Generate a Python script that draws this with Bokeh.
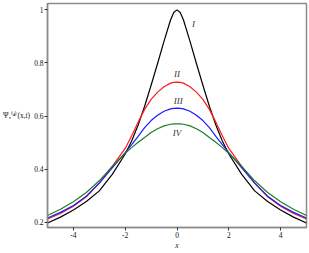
from bokeh.plotting import figure
from bokeh.models import Range1d, FixedTicker, Label
from bokeh.embed import file_html
from bokeh.resources import INLINE

# x >= 0 half of the (symmetric) curves
x_half = [0.0, 0.125, 0.25, 0.5, 0.75, 1.0, 1.25, 1.5, 1.75, 2.0, 2.5, 3.0, 3.5, 4.0, 4.5, 5.0]
psi_I = [1.0, 0.99, 0.962, 0.882, 0.798, 0.716, 0.637, 0.566, 0.506, 0.457, 0.38, 0.318, 0.278, 0.246, 0.219, 0.197]
psi_II = [0.728, 0.727, 0.724, 0.71, 0.69, 0.663, 0.625, 0.577, 0.526, 0.478, 0.41, 0.347, 0.296, 0.26, 0.233, 0.212]
psi_III = [0.630, 0.629, 0.627, 0.618, 0.603, 0.583, 0.556, 0.523, 0.492, 0.462, 0.405, 0.347, 0.298, 0.263, 0.237, 0.216]
psi_IV = [0.571, 0.5705, 0.569, 0.563, 0.552, 0.538, 0.519, 0.501, 0.481, 0.46, 0.41, 0.356, 0.312, 0.277, 0.249, 0.225]

curve_names = ["I", "II", "III", "IV"]
curve_colors = ["black", "#ff1a1a", "#1a1aff", "#1e7f1e"]
label_pos = [(0.64, 0.945), (0.0, 0.757), (0.05, 0.656), (0.0, 0.535)]

x_ticks = [-4, -2, 0, 2, 4]
x_tick_labels = ["-4", "-2", "0", "2", "4"]
y_ticks = [0.2, 0.4, 0.6, 0.8, 1.0]
y_tick_labels = ["0.2", "0.4", "0.6", "0.8", "1"]

y_label = "Ψₓ⁽⁴⁾(x,t)"
x_label = "x"


def mirror(xs, ys):
    fx = [-v for v in reversed(xs[1:])] + list(xs)
    fy = list(reversed(ys[1:])) + list(ys)
    return fx, fy


p = figure(width=308, height=252, x_range=Range1d(-5, 5), y_range=Range1d(0.18, 1.024),
           output_backend="svg", toolbar_location=None,
           min_border_left=46, min_border_right=2, min_border_top=3, min_border_bottom=18)
p.background_fill_color = "white"
p.border_fill_color = "white"
p.xgrid.visible = False
p.ygrid.visible = False
p.outline_line_color = "#8c8c8c"
p.outline_line_width = 1.5

p.xaxis.ticker = FixedTicker(ticks=x_ticks, minor_ticks=[])
p.yaxis.ticker = FixedTicker(ticks=y_ticks, minor_ticks=[])
p.xaxis.major_label_overrides = {t: s for t, s in zip(x_ticks, x_tick_labels)}
p.yaxis.major_label_overrides = {t: s for t, s in zip(y_ticks, y_tick_labels)}
for ax in (p.xaxis, p.yaxis):
    ax.axis_line_color = "#8c8c8c"
    ax.axis_line_width = 1.5
    ax.major_tick_line_color = "#333333"
    ax.major_tick_out = 3
    ax.major_tick_in = 0
    ax.minor_tick_line_color = None
    ax.major_label_text_font = "Liberation Serif"
    ax.major_label_text_font_size = "7.5px"
    ax.major_label_text_color = "#111111"
    ax.major_label_standoff = 1
    ax.axis_label_text_font = "Liberation Serif"
    ax.axis_label_text_color = "#111111"
    ax.axis_label_standoff = 1

p.xaxis.axis_label = x_label
p.xaxis.axis_label_text_font_style = "italic"
p.xaxis.axis_label_text_font_size = "7.5px"
p.xaxis.axis_label_standoff = 0
p.xaxis.major_label_standoff = 1

p.yaxis.axis_label = y_label
p.yaxis.axis_label_orientation = "horizontal"
p.yaxis.axis_label_text_font_size = "7.5px"
p.yaxis.axis_label_text_font_style = "normal"

for ys, col in zip([psi_I, psi_II, psi_III, psi_IV], curve_colors):
    fx, fy = mirror(x_half, ys)
    p.line(fx, fy, line_color=col, line_width=1.2)

for name, (lx, ly) in zip(curve_names, label_pos):
    p.add_layout(Label(x=lx, y=ly, text=name, text_font="Liberation Serif",
                       text_font_style="italic", text_font_size="9px",
                       text_color="#333333", text_align="center", text_baseline="middle"))

open("out.html", "w").write(file_html(p, INLINE))
